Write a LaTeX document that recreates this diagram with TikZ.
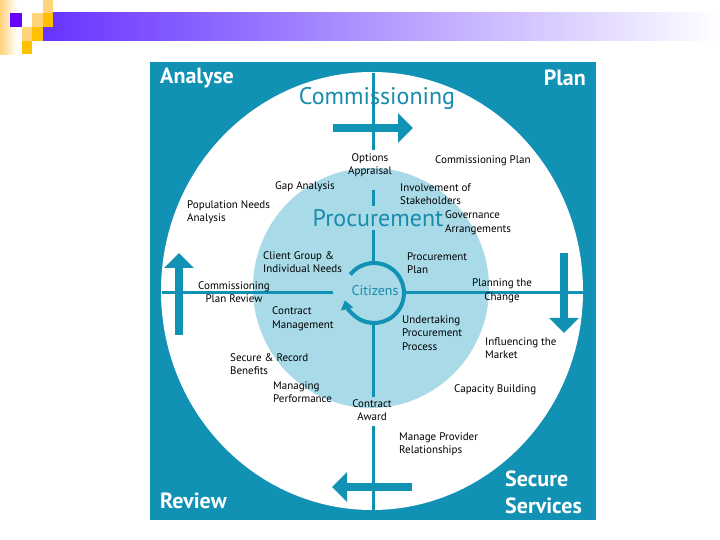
\documentclass[tikz,border=0pt]{standalone}
\usepackage{fontspec}
\setmainfont{PT Sans}
\usetikzlibrary{arrows.meta}
\definecolor{teal1}{RGB}{17,145,180}
\definecolor{lblue}{RGB}{168,218,232}
\definecolor{tealtxt}{RGB}{24,140,172}
\definecolor{violet1}{RGB}{102,51,255}
\definecolor{purp}{RGB}{102,0,255}
\definecolor{lorange}{RGB}{255,211,122}
\definecolor{gold1}{RGB}{255,192,0}
\tikzset{
  lbl/.style={font=\fontsize{11}{13.5}\selectfont, inner sep=0pt, text=black, align=left},
  lblc/.style={lbl, align=center},
  corner/.style={font=\fontsize{22}{28}\selectfont\bfseries, text=white, inner sep=0pt, align=left},
  ttl/.style={font=\fontsize{24}{28}\selectfont, text=tealtxt, inner sep=0pt},
  axis/.style={draw=teal1, line width=3pt},
  bigarrow/.style={draw=teal1, line width=7.5pt, -{Triangle[width=29pt,length=15pt]}},
}
\begin{document}
\begin{tikzpicture}[x=1pt,y=1pt]
\useasboundingbox (0,0) rectangle (720,540);
% decoration at top
\shade[left color=lorange, right color=white] (0,485) rectangle (17,540);
\shade[left color=violet1, middle color={rgb,255:red,185;green,175;blue,250}, right color=white] (43,499) rectangle (720,527);
\fill[purp] (10,513) rectangle (22,527);
\fill[lorange] (43,527) rectangle (53,540);
\fill[lorange] (32,513) rectangle (43,527);
\fill[lorange] (22,499) rectangle (32,513);
\fill[gold1] (43,513) rectangle (53,527);
\fill[gold1] (32,499) rectangle (43,513);
\fill[gold1] (22,486) rectangle (32,499);
% main panel
\fill[teal1] (150,20) rectangle (596,478);
\fill[white] (372,249) ellipse [x radius=211, y radius=219];
\fill[lblue] (371,252) ellipse [x radius=118, y radius=120];
% axes
\draw[axis] (373,467) -- (373,390);
\draw[axis] (373,350) -- (373,334);
\draw[axis] (373,310) -- (373,277);
\draw[axis] (373,217) -- (373,143);
\draw[axis] (373,114) -- (373,30);
\draw[axis] (162,247) -- (333,247);
\draw[axis] (404,247) -- (583,247);
% citizens circle
\draw[teal1, line width=4pt, -{Triangle[width=12pt,length=9pt]}]
  ([shift={(142:30)}]374,247) arc[start angle=142, end angle=-166, radius=30];
% big arrows
\draw[bigarrow] (333,412) -- (413,412);
\draw[bigarrow] (412,53) -- (332,53);
\draw[bigarrow] (179,205) -- (179,287);
\draw[bigarrow] (564,287) -- (564,207);
% corner labels
\node[corner, anchor=west] (analyse) at (160,462) {Analyse};
\node[corner, anchor=east] (plan) at (586,462) {Plan};
\node[corner, anchor=west] (review) at (160,39) {Review};
\node[corner, anchor=west] (secure) at (505,48) {Secure\\[-1pt]Services};
% titles
\node[ttl] (comm) at (377,441) {Commissioning};
\node[ttl] (proc) at (378,322) {Procurement};
\node[font=\fontsize{14}{16}\selectfont, text=tealtxt, inner sep=0pt] (cit) at (375,249) {Citizens};
% labels
\node[lblc] (opt) at (370,375) {Options\\Appraisal};
\node[lbl, anchor=west] (cplan) at (435,379) {Commissioning Plan};
\node[lbl, anchor=west] (gap) at (275,353) {Gap Analysis};
\node[lbl, anchor=west] (inv) at (400,346) {Involvement of\\Stakeholders};
\node[lbl, anchor=west] (pop) at (187,328) {Population Needs\\Analysis};
\node[lbl, anchor=west] (gov) at (445,317) {Governance\\Arrangements};
\node[lbl, anchor=west] (client) at (263,278) {Client Group \&\\Individual Needs};
\node[lbl, anchor=west] (pplan) at (407,277) {Procurement\\Plan};
\node[lblc] (cpr) at (234,248) {Commissioning\\Plan Review};
\node[lblc] (ptc) at (502,249) {Planning the\\Change};
\node[lbl, anchor=west] (cm) at (272,221) {Contract\\Management};
\node[lbl, anchor=west] (upp) at (402,207) {Undertaking\\Procurement\\Process};
\node[lbl, anchor=west] (itm) at (485,192) {Influencing the\\Market};
\node[lbl, anchor=west] (srb) at (230,176) {Secure \& Record\\Benefits};
\node[lbl, anchor=west] (mp) at (273,148) {Managing\\Performance};
\node[lbl, anchor=west] (cb) at (454,150) {Capacity Building};
\node[lblc] (ca) at (372,130) {Contract\\Award};
\node[lbl, anchor=west] (mpr) at (399,96) {Manage Provider\\Relationships};
\end{tikzpicture}
\end{document}
